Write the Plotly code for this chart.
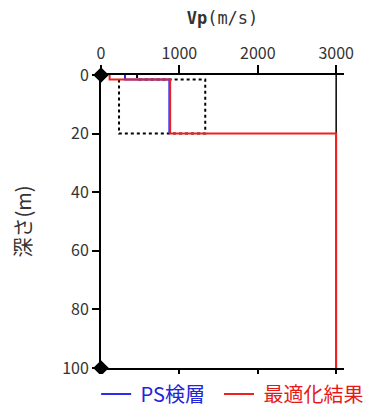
import plotly.graph_objects as go

# Data (depth in m, Vp in m/s)
ps_depth = [0, 1.5, 1.5, 20]
ps_vp = [306, 306, 872, 872]

opt_depth = [0, 1.5, 1.5, 20, 20, 100]
opt_vp = [110, 110, 882, 882, 3000, 3000]

lower_depth = [1.5, 20, 20]
lower_vp = [230, 230, 880]

upper_depth = [0, 1.5, 1.5, 20, 20]
upper_vp = [460, 460, 1330, 1330, 880]

marker_depth = [0, 100]
marker_vp = [0, 0]

x_ticks = [0, 1000, 2000, 3000]
y_ticks = [0, 20, 40, 60, 80, 100]

FONT = "Noto Sans CJK JP"
MONO = "DejaVu Sans Mono"
BLUE = "#2b2bf0"
RED = "#f02020"
TXT = "#333"
NB = "\u00a0"

fig = go.Figure()

fig.add_trace(go.Scatter(x=lower_vp, y=lower_depth, mode="lines",
                         line=dict(color="black", width=2, dash="dot"),
                         showlegend=False, hoverinfo="skip"))
fig.add_trace(go.Scatter(x=upper_vp, y=upper_depth, mode="lines",
                         line=dict(color="black", width=2, dash="dot"),
                         showlegend=False, hoverinfo="skip"))
fig.add_trace(go.Scatter(x=ps_vp, y=ps_depth, mode="lines",
                         line=dict(color=BLUE, width=2),
                         name=NB + "<span style='color:#2424d8'>PS検層</span>" + NB * 2,
                         legendrank=1))
fig.add_trace(go.Scatter(x=opt_vp, y=opt_depth, mode="lines",
                         line=dict(color=RED, width=2),
                         name=NB + "<span style='color:#e81818'>最適化結果</span>",
                         legendrank=2))
fig.add_trace(go.Scatter(x=marker_vp, y=marker_depth, mode="markers",
                         marker=dict(symbol="diamond", size=12, color="black"),
                         cliponaxis=False, showlegend=False, hoverinfo="skip"))

fig.add_vline(x=3000, line=dict(color="black", width=1.5), layer="below")

fig.update_layout(
    width=369, height=399,
    margin=dict(l=93, r=33, t=67, b=39, autoexpand=False),
    plot_bgcolor="white", paper_bgcolor="white",
    font=dict(family=FONT, size=13, color=TXT),
    showlegend=True,
    legend=dict(orientation="h", x=-0.02, y=-0.022, xanchor="left", yanchor="top",
                font=dict(size=20, family=FONT), itemwidth=30,
                tracegroupgap=0),
    xaxis=dict(side="top", range=[0, 3100], tickvals=x_ticks, automargin=False,
               ticks="outside", ticklen=8, tickwidth=1.5, tickcolor="black",
               showline=True, linecolor="black", linewidth=2, mirror="ticks",
               showgrid=False, zeroline=False,
               tickfont=dict(size=16, family=FONT, color=TXT),
               title=dict(text="<b>Vp</b>(m/s)", font=dict(size=17, family=MONO, color=TXT),
                          standoff=12)),
    yaxis=dict(range=[100, 0], tickvals=y_ticks, automargin=False,
               ticks="outside", ticklen=7, tickwidth=1.5, tickcolor="black",
               showline=True, linecolor="black", linewidth=2,
               showgrid=False, zeroline=False,
               tickfont=dict(size=16, family=FONT, color=TXT),
               title=dict(text="深さ(m)", font=dict(size=20, family=FONT, color=TXT),
                          standoff=30)),
)

fig.write_html("out.html")
